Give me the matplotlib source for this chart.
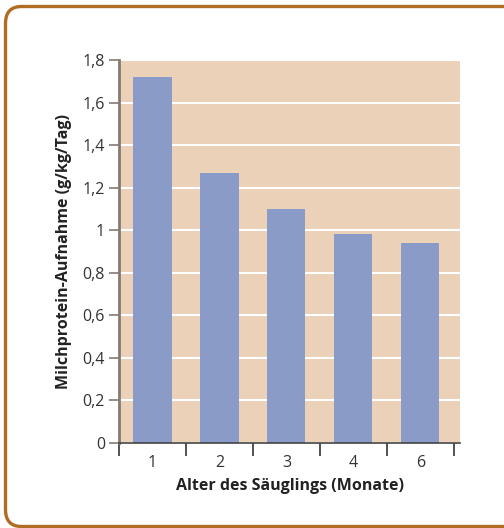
# -*- coding: utf-8 -*-

import numpy as np
from matplotlib import pyplot as plt
from matplotlib.patches import FancyBboxPatch

plt.rcParams['font.family'] = ['Open Sans', 'DejaVu Sans']

"DATA"
months = ['1', '2', '3', '4', '6']
protein = [1.72, 1.27, 1.10, 0.98, 0.94]
y_ticks = [0, 0.2, 0.4, 0.6, 0.8, 1.0, 1.2, 1.4, 1.6, 1.8]
y_labels = ['0', '0,2', '0,4', '0,6', '0,8', '1', '1,2', '1,4', '1,6', '1,8']

"COLOURS"
bg = '#ebd1b8'
bar_col = '#8a9bc8'
frame = '#b06c22'
spine = '#857b72'
txt = '#333333'

"MAKE PLOT"
fig = plt.figure(figsize=(5.04, 5.28), dpi=100)
ax = fig.add_axes([0.236, 0.1616, 0.677, 0.7248])

x = np.arange(len(months))
ax.set_facecolor(bg)
ax.bar(x, protein, width=0.57, color=bar_col, zorder=3)

ax.set_ylim(0, 1.8)
ax.set_xlim(-0.5, 4.594)
ax.set_yticks(y_ticks)
ax.set_yticklabels(y_labels)
ax.grid(axis='y', color='white', linewidth=1.5, zorder=1)
ax.set_axisbelow(True)

ax.set_xticks(x)
ax.set_xticklabels(months)
ax.set_xticks(np.arange(-0.5, 5, 1), minor=True)
ax.tick_params(axis='x', which='major', length=0, pad=9, labelsize=11.5, colors=txt)
ax.tick_params(axis='x', which='minor', length=9, width=1.2, color='#333333')
ax.tick_params(axis='y', length=7, width=1.2, color=spine, labelsize=11.5,
               labelcolor=txt, pad=3)

for s in ['top', 'right']:
    ax.spines[s].set_visible(False)
ax.spines['left'].set_color(spine)
ax.spines['left'].set_linewidth(2)
ax.spines['bottom'].set_color('#444444')
ax.spines['bottom'].set_linewidth(1.2)
ax.spines['bottom'].set_zorder(4)

ax.set_ylabel('Milchprotein-Aufnahme (g/kg/Tag)', fontsize=11.5,
              fontweight='bold', color='#222222', labelpad=8)
ax.set_xlabel('Alter des Säuglings (Monate)', fontsize=11.5,
              fontweight='bold', color='#222222', labelpad=5)

"FRAME"
box = FancyBboxPatch((5.5 / 504, 1.5 / 528), 520 / 504, 520 / 528,
                     boxstyle='round,pad=0,rounding_size=0.032',
                     transform=fig.transFigure, fill=False,
                     edgecolor=frame, linewidth=2.4, clip_on=False)
fig.patches.append(box)

fig.savefig('out.png', dpi=100)
